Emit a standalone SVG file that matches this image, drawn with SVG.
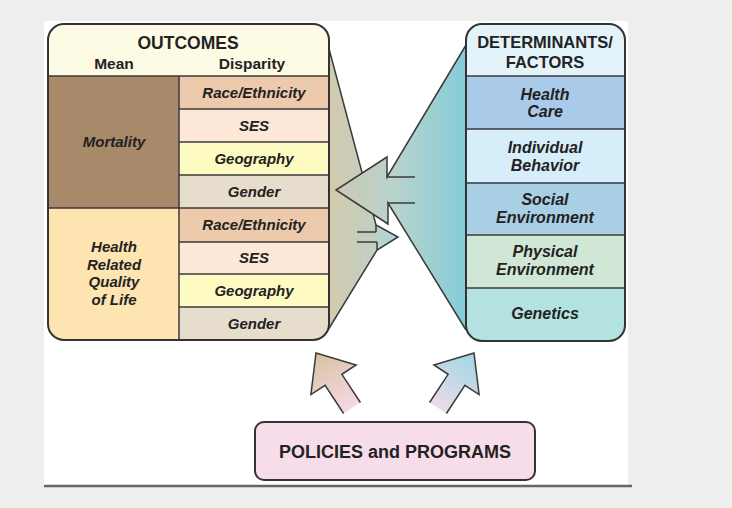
<svg xmlns="http://www.w3.org/2000/svg" width="732" height="508" viewBox="0 0 732 508">
<style>
.b{stroke:#333;stroke-width:1.6;}
.ln{stroke:#3a3a3a;stroke-width:1.5;fill:none;}
.t{font-family:"Liberation Sans",Arial,sans-serif;font-weight:bold;fill:#222;text-anchor:middle;}
.h{font-size:17.5px;}
.hr{font-size:16.5px;}
.s{font-size:15.5px;}
.i{font-style:italic;font-size:15px;}
.ir{font-style:italic;font-size:16px;}
.p{font-size:18px;}
</style>
<defs>
<linearGradient id="gL" gradientUnits="userSpaceOnUse" x1="328" y1="0" x2="400" y2="0">
<stop offset="0" stop-color="#d2caad"/><stop offset="0.6" stop-color="#c4cfc0"/><stop offset="1" stop-color="#a6d8e3"/>
</linearGradient>
<linearGradient id="gR" gradientUnits="userSpaceOnUse" x1="336" y1="0" x2="466" y2="0">
<stop offset="0" stop-color="#cbcab3"/><stop offset="0.45" stop-color="#b9d3cc"/><stop offset="1" stop-color="#84ccd8"/>
</linearGradient>
<linearGradient id="gA1" gradientUnits="userSpaceOnUse" x1="316" y1="353" x2="352" y2="410">
<stop offset="0" stop-color="#d8c2a2"/><stop offset="1" stop-color="#f6d9e4"/>
</linearGradient>
<linearGradient id="gA2" gradientUnits="userSpaceOnUse" x1="473" y1="353" x2="437" y2="410">
<stop offset="0" stop-color="#9fd6e6"/><stop offset="1" stop-color="#eedbe8"/>
</linearGradient>
</defs>
<rect x="0" y="0" width="732" height="508" fill="#eeeeee"/>
<rect x="44" y="21" width="584" height="464" fill="#ffffff"/>
<line x1="44" y1="486" x2="632" y2="486" stroke="#666" stroke-width="2.5"/>

<g id="connectors">
<g id="left-funnel">
<path d="M328,45 L376,225 L398,237 L377,250 L328,330 Z" fill="url(#gL)" stroke="none"/>
<path class="ln" d="M328,45 L376,225 L398,237 L377,250 L328,330"/>
<line class="ln" x1="357" y1="232" x2="376" y2="232"/>
<line class="ln" x1="357" y1="242" x2="377" y2="242"/>
<line class="ln" x1="376" y1="225" x2="376" y2="232"/>
<line class="ln" x1="377" y1="242" x2="377" y2="250"/>
</g>
<g id="right-funnel">
<path d="M466,45 L387,177 L387,157 L336,190 L388,224 L388,203 L466,330 Z" fill="url(#gR)" stroke="none"/>
<path class="ln" d="M466,45 L387,177 L387,157 L336,190 L388,224 L388,203 L466,330"/>
<line class="ln" x1="387" y1="177" x2="415" y2="177"/>
<line class="ln" x1="388" y1="203" x2="415" y2="203"/>
</g>
<g id="arrow-left-up">
<path d="M343.6,413.5 L325.1,385.3 L310.9,394.6 L316,353 L356.1,365 L341.9,374.3 L360.4,402.5 Z" fill="url(#gA1)" stroke="none"/>
<path class="ln" d="M343.6,413.5 L325.1,385.3 L310.9,394.6 L316,353 L356.1,365 L341.9,374.3 L360.4,402.5"/>
</g>
<g id="arrow-right-up">
<path d="M446.4,413.5 L464.9,385.3 L479.1,394.6 L474,353 L433.9,365 L448.1,374.3 L429.6,402.5 Z" fill="url(#gA2)" stroke="none"/>
<path class="ln" d="M446.4,413.5 L464.9,385.3 L479.1,394.6 L474,353 L433.9,365 L448.1,374.3 L429.6,402.5"/>
</g>
</g>

<g id="outcomes">
<clipPath id="cpL"><rect x="48" y="24" width="281" height="316" rx="16"/></clipPath>
<g clip-path="url(#cpL)">
<rect x="48" y="24" width="281" height="52" fill="#fefbe5"/>
<rect x="48" y="76" width="131" height="132" fill="#a8896a"/>
<rect x="48" y="208" width="131" height="132" fill="#fde4b0"/>
<rect x="179" y="76" width="150" height="33" fill="#eccaab"/>
<rect x="179" y="109" width="150" height="33" fill="#fde8d8"/>
<rect x="179" y="142" width="150" height="33" fill="#fdfbc2"/>
<rect x="179" y="175" width="150" height="33" fill="#e7ddcc"/>
<rect x="179" y="208" width="150" height="34" fill="#eccaab"/>
<rect x="179" y="242" width="150" height="32" fill="#fde8d8"/>
<rect x="179" y="274" width="150" height="33" fill="#fdfbc2"/>
<rect x="179" y="307" width="150" height="33" fill="#e7ddcc"/>
</g>
<g class="ln">
<line x1="48" y1="76" x2="329" y2="76"/>
<line x1="48" y1="208" x2="329" y2="208"/>
<line x1="179" y1="76" x2="179" y2="340"/>
<line x1="179" y1="109" x2="329" y2="109"/>
<line x1="179" y1="142" x2="329" y2="142"/>
<line x1="179" y1="175" x2="329" y2="175"/>
<line x1="179" y1="242" x2="329" y2="242"/>
<line x1="179" y1="274" x2="329" y2="274"/>
<line x1="179" y1="307" x2="329" y2="307"/>
</g>
<rect x="48" y="24" width="281" height="316" rx="16" fill="none" stroke="#333" stroke-width="2"/>
<text class="t h" x="188" y="49">OUTCOMES</text>
<text class="t s" x="114" y="69">Mean</text>
<text class="t s" x="252" y="69">Disparity</text>
<text class="t i" x="114" y="147">Mortality</text>
<text class="t i" x="114" y="252">Health</text>
<text class="t i" x="114" y="270">Related</text>
<text class="t i" x="114" y="287">Quality</text>
<text class="t i" x="114" y="305">of Life</text>
<text class="t i" x="254" y="98">Race/Ethnicity</text>
<text class="t i" x="254" y="131">SES</text>
<text class="t i" x="254" y="164">Geography</text>
<text class="t i" x="254" y="197">Gender</text>
<text class="t i" x="254" y="230">Race/Ethnicity</text>
<text class="t i" x="254" y="263">SES</text>
<text class="t i" x="254" y="296">Geography</text>
<text class="t i" x="254" y="329">Gender</text>
</g>

<g id="determinants">
<clipPath id="cpR"><rect x="466" y="24" width="159" height="317" rx="16"/></clipPath>
<g clip-path="url(#cpR)">
<rect x="466" y="24" width="159" height="52" fill="#e4f3fa"/>
<rect x="466" y="76" width="159" height="53" fill="#a9cbe9"/>
<rect x="466" y="129" width="159" height="54" fill="#d6eef9"/>
<rect x="466" y="183" width="159" height="52" fill="#a9cfe5"/>
<rect x="466" y="235" width="159" height="53" fill="#cfe7d4"/>
<rect x="466" y="288" width="159" height="53" fill="#b4e2e1"/>
</g>
<g class="ln">
<line x1="466" y1="76" x2="625" y2="76"/>
<line x1="466" y1="129" x2="625" y2="129"/>
<line x1="466" y1="183" x2="625" y2="183"/>
<line x1="466" y1="235" x2="625" y2="235"/>
<line x1="466" y1="288" x2="625" y2="288"/>
</g>
<rect x="466" y="24" width="159" height="317" rx="16" fill="none" stroke="#333" stroke-width="2"/>
<text class="t hr" x="545" y="48">DETERMINANTS/</text>
<text class="t hr" x="545" y="68">FACTORS</text>
<text class="t ir" x="545" y="100">Health</text>
<text class="t ir" x="545" y="117">Care</text>
<text class="t ir" x="545" y="153">Individual</text>
<text class="t ir" x="545" y="171">Behavior</text>
<text class="t ir" x="545" y="205">Social</text>
<text class="t ir" x="545" y="223">Environment</text>
<text class="t ir" x="545" y="257">Physical</text>
<text class="t ir" x="545" y="275">Environment</text>
<text class="t ir" x="545" y="319">Genetics</text>
</g>

<g id="policies">
<rect x="255" y="422" width="280" height="58" rx="9" fill="#f6dde9" stroke="#333" stroke-width="2"/>
<text class="t p" x="395" y="458">POLICIES and PROGRAMS</text>
</g>
</svg>
